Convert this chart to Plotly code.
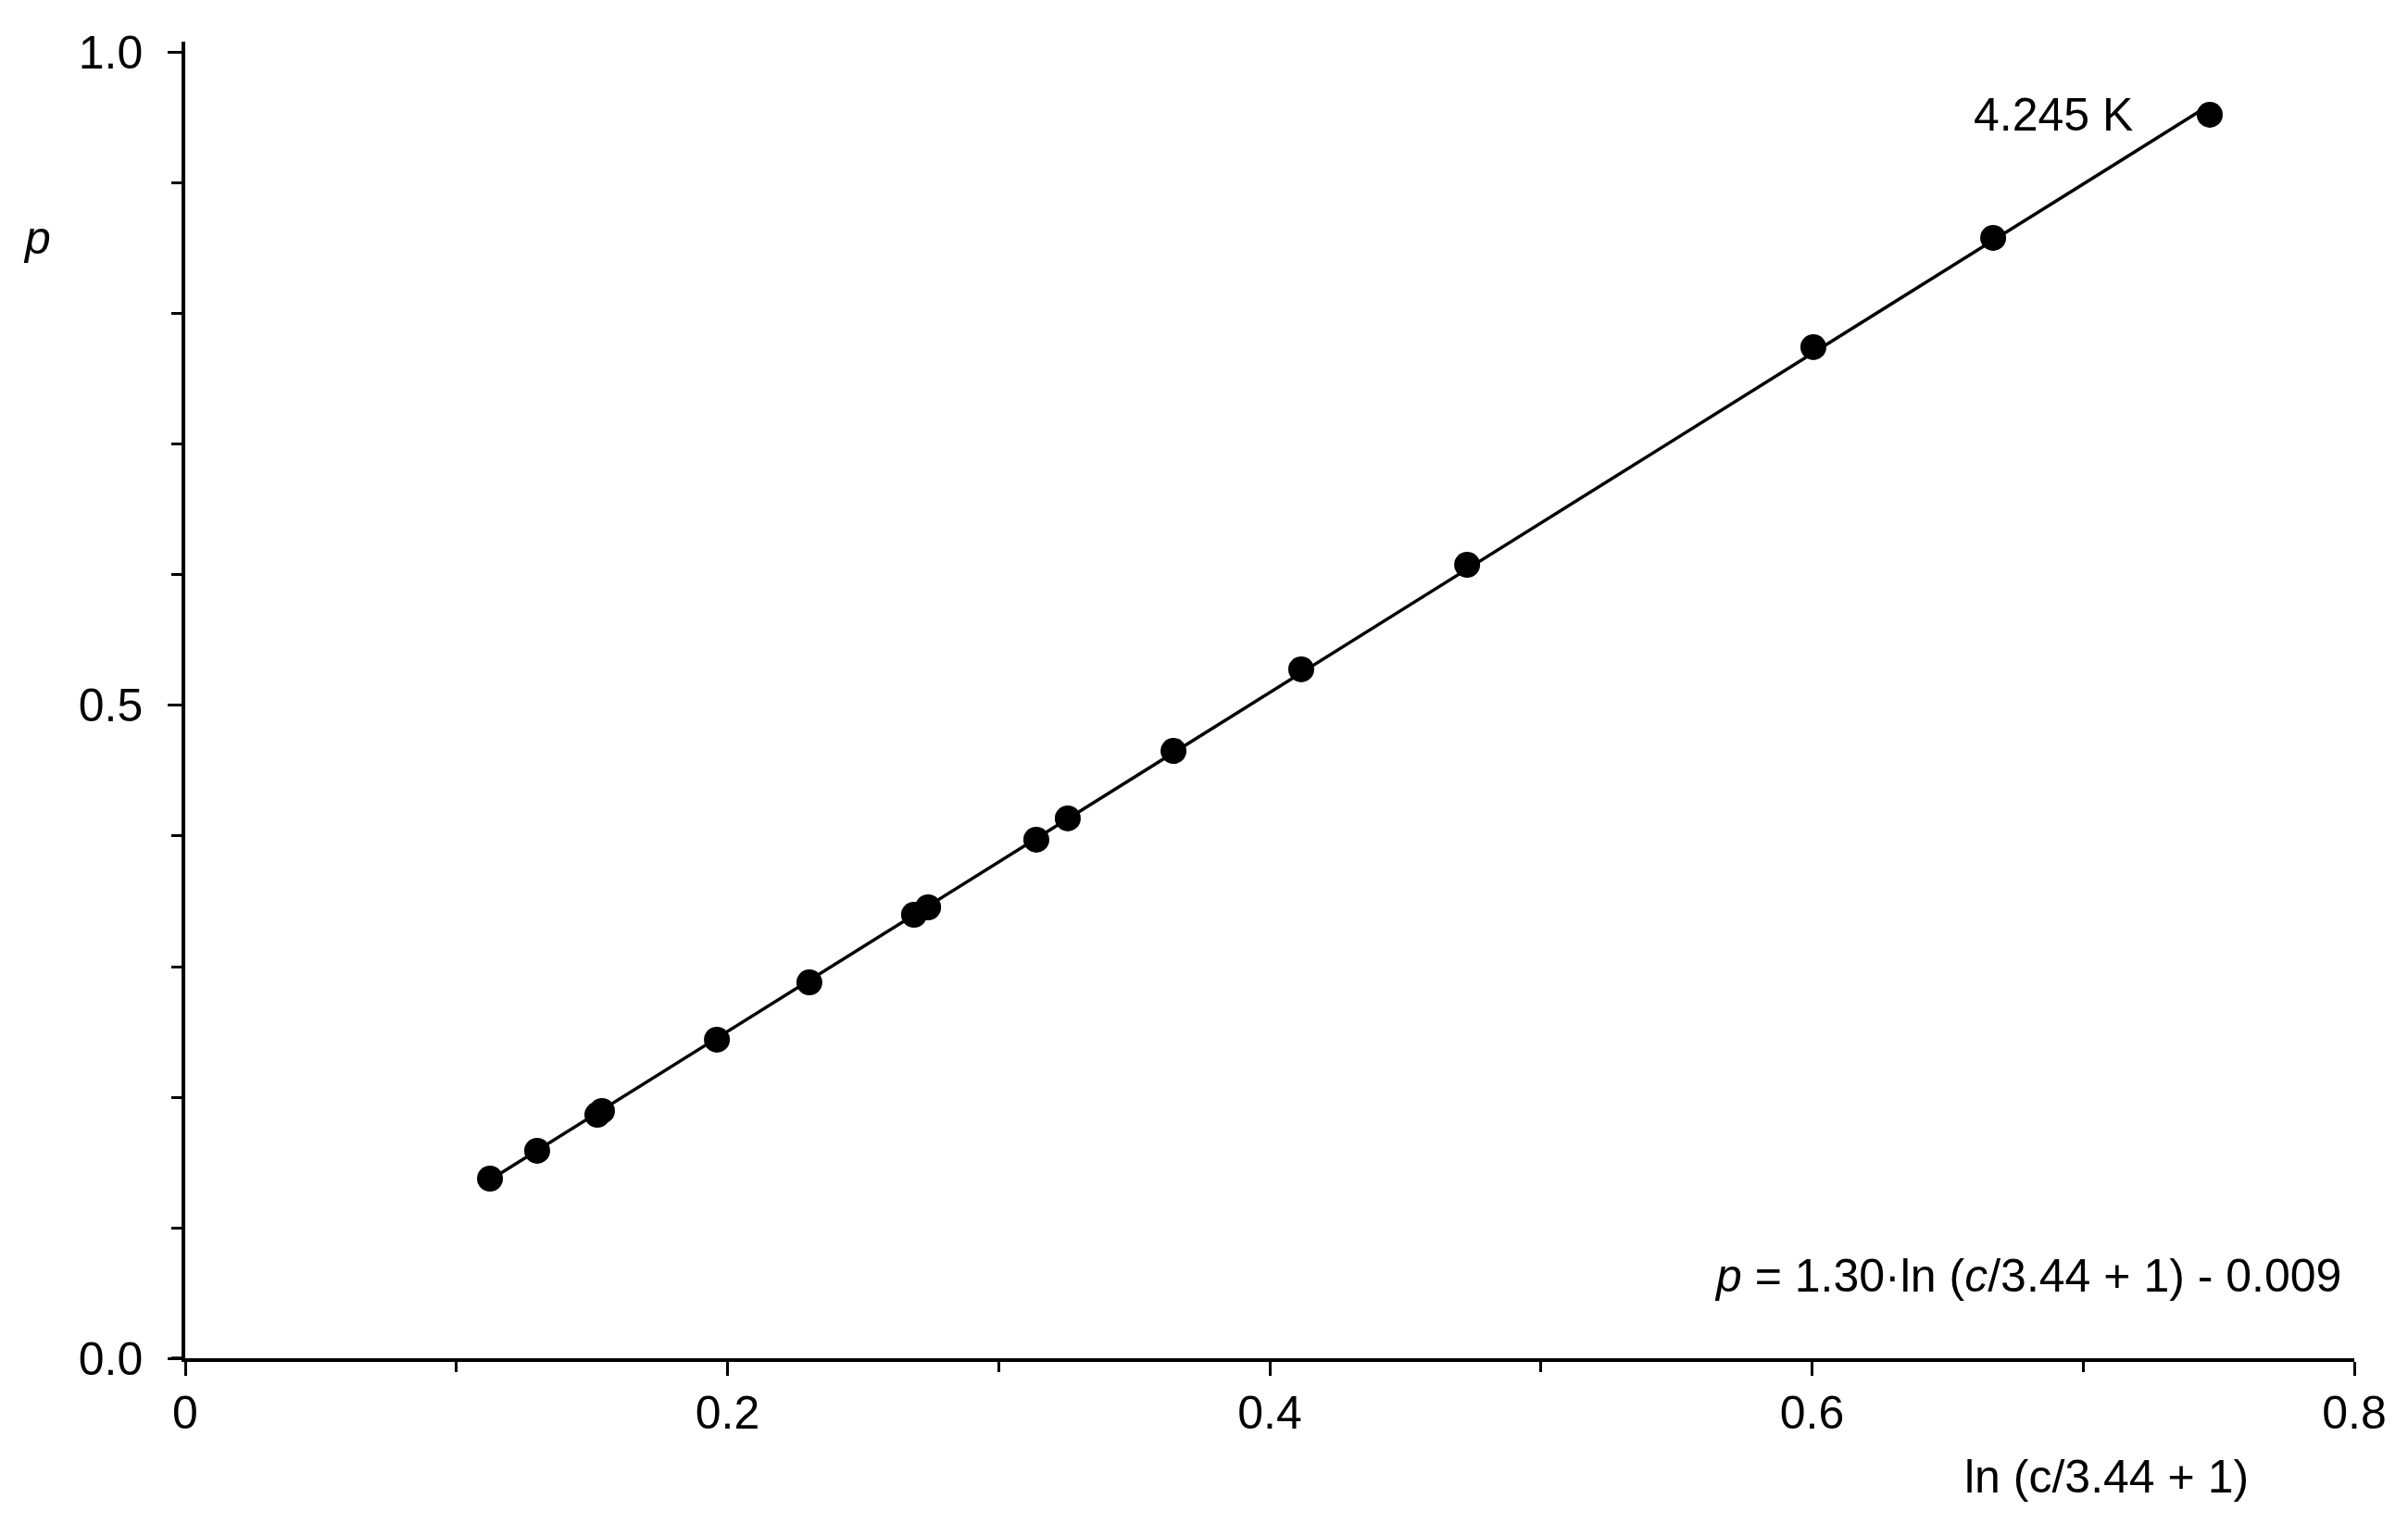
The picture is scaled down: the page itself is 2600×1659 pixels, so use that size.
import numpy as np
import plotly.graph_objects as go

# data
ln_c = [0.1124, 0.1298, 0.1520, 0.1537, 0.1961, 0.2302, 0.2688, 0.2740,
        0.3139, 0.3255, 0.3645, 0.4116, 0.4728, 0.6005, 0.6668, 0.7467]
p_vals = [0.1376, 0.1589, 0.1865, 0.1894, 0.2440, 0.2879, 0.3397, 0.3454,
          0.3972, 0.4135, 0.4652, 0.5277, 0.6078, 0.7745, 0.8582, 0.9525]

x_ticks = [0, 0.2, 0.4, 0.6, 0.8]
x_ticktext = ["0", "0.2", "0.4", "0.6", "0.8"]
y_ticks = [0.0, 0.5, 1.0]
y_ticktext = ["0.0", "0.5", "1.0"]

W, H = 2600, 1659
OFF = 8  # page body margin
L, R, T, B = 192, 66, 37, 200
FONT = "Liberation Sans, Arial, sans-serif"


def px_x(px):
    return (px - OFF - L) / (W - L - R)


def px_y(py):
    return 1 - (py - OFF - T) / (H - T - B)


# straight line fit, drawn between first and last point
slope, icpt = np.polyfit(ln_c, p_vals, 1)
fit_x = [min(ln_c), max(ln_c)]
fit_y = [slope * v + icpt for v in fit_x]

fig = go.Figure()

fig.add_trace(go.Scatter(
    x=fit_x, y=fit_y, mode="lines",
    line=dict(color="black", width=3.5),
    showlegend=False, hoverinfo="skip"
))

fig.add_trace(go.Scatter(
    x=ln_c, y=p_vals, mode="markers",
    marker=dict(color="black", size=28, line=dict(width=0)),
    showlegend=False
))

axis_common = dict(
    showgrid=False, zeroline=False,
    showline=True, linecolor="black", linewidth=3.5,
    ticks="outside", ticklen=15, tickwidth=3, tickcolor="black",
    tickfont=dict(family=FONT, size=50, color="black"),
)

fig.update_xaxes(
    range=[0, 0.8], tickvals=x_ticks, ticktext=x_ticktext,
    ticklabelstandoff=-3,
    minor=dict(dtick=0.1, ticks="outside", ticklen=11, tickwidth=3, tickcolor="black"),
    **axis_common
)
fig.update_yaxes(
    range=[0, 1.0085], tickvals=y_ticks, ticktext=y_ticktext,
    ticklabelstandoff=17,
    minor=dict(dtick=0.1, ticks="outside", ticklen=11, tickwidth=3, tickcolor="black"),
    **axis_common
)

# x axis line runs a little past the y axis, like the original
fig.add_shape(type="line", xref="x domain", yref="y",
              x0=-15 / (W - L - R), x1=0, y0=0, y1=0,
              line=dict(color="black", width=3.5))

txt = dict(family=FONT, size=50, color="black")
fig.add_annotation(x=px_x(40), y=px_y(257), xref="paper", yref="paper",
                   text="<i>p</i>", showarrow=False, font=txt,
                   xanchor="center", yanchor="middle")
fig.add_annotation(x=px_x(2430), y=px_y(1595), xref="paper", yref="paper",
                   text="ln (c/3.44 + 1)", showarrow=False, font=txt,
                   xanchor="right", yanchor="middle")
fig.add_annotation(x=px_x(2530), y=px_y(1378), xref="paper", yref="paper",
                   text="<i>p</i> = 1.30·ln (<i>c</i>/3.44 + 1) - 0.009",
                   showarrow=False, font=txt, xanchor="right", yanchor="middle")
fig.add_annotation(x=px_x(2129), y=px_y(124), xref="paper", yref="paper",
                   text="4.245 K", showarrow=False, font=txt,
                   xanchor="left", yanchor="middle")

fig.update_layout(
    width=W, height=H,
    margin=dict(l=L, r=R, t=T, b=B),
    paper_bgcolor="white", plot_bgcolor="white",
    font=dict(family=FONT, color="black"),
)

fig.write_html("out.html")
